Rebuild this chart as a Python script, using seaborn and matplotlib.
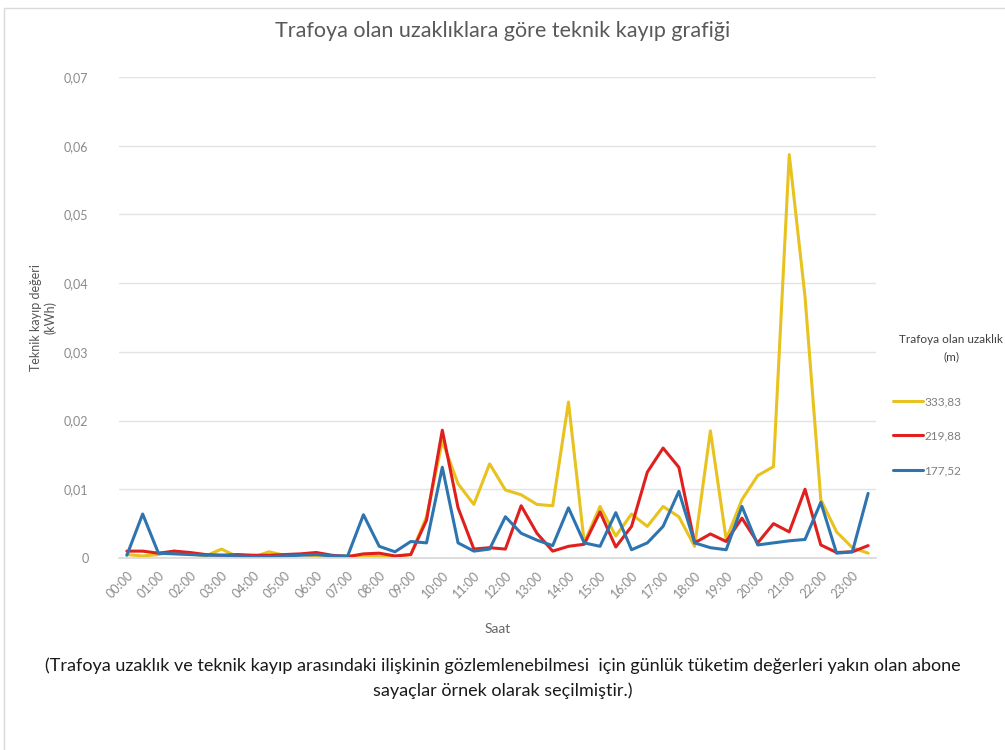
import numpy as np
import pandas as pd
import matplotlib.pyplot as plt
import seaborn as sns
from matplotlib.ticker import FuncFormatter
from matplotlib.patches import Rectangle

# saat etiketleri (30 dk aralik)
saatler = [f"{h:02d}:{m}" for h in range(24) for m in ("00", "30")]

# Teknik kayip degerleri (kWh)
kayip_333 = [0.0005, 0.0003, 0.0005, 0.0010, 0.0006, 0.0003, 0.0013, 0.0002,
             0.0001, 0.0009, 0.0004, 0.0005, 0.0003, 0.0003, 0.0003, 0.0003,
             0.0003, 0.0002, 0.0005, 0.0060, 0.0170, 0.0108, 0.0078, 0.0137,
             0.0099, 0.0092, 0.0078, 0.0076, 0.0227, 0.0022, 0.0075, 0.0032,
             0.0064, 0.0046, 0.0075, 0.0060, 0.0017, 0.0185, 0.0027, 0.0085,
             0.0120, 0.0133, 0.0587, 0.0380, 0.0085, 0.0038, 0.0015, 0.0007]

kayip_219 = [0.0010, 0.0010, 0.0007, 0.0010, 0.0008, 0.0005, 0.0004, 0.0005,
             0.0004, 0.0004, 0.0005, 0.0006, 0.0008, 0.0004, 0.0002, 0.0006,
             0.0007, 0.0003, 0.0005, 0.0055, 0.0186, 0.0073, 0.0013, 0.0015,
             0.0013, 0.0076, 0.0036, 0.0010, 0.0017, 0.0020, 0.0067, 0.0016,
             0.0046, 0.0125, 0.0160, 0.0132, 0.0022, 0.0035, 0.0024, 0.0058,
             0.0022, 0.0050, 0.0038, 0.0100, 0.0019, 0.0008, 0.0009, 0.0018]

kayip_177 = [0.0004, 0.0064, 0.0007, 0.0006, 0.0005, 0.0004, 0.0004, 0.0003,
             0.0002, 0.0002, 0.0003, 0.0004, 0.0005, 0.0003, 0.0003, 0.0063,
             0.0017, 0.0009, 0.0024, 0.0022, 0.0132, 0.0022, 0.0010, 0.0013,
             0.0060, 0.0036, 0.0026, 0.0018, 0.0073, 0.0022, 0.0017, 0.0066,
             0.0012, 0.0022, 0.0046, 0.0097, 0.0022, 0.0015, 0.0012, 0.0075,
             0.0019, 0.0022, 0.0025, 0.0027, 0.0081, 0.0007, 0.0009, 0.0094]

mesafeler = ["333,83", "219,88", "177,52"]
renkler = ["#E8C21E", "#E0201E", "#2E75B0"]

df = pd.DataFrame({
    "idx": list(range(len(saatler))) * 3,
    "kayip": kayip_333 + kayip_219 + kayip_177,
    "mesafe": [m for m in mesafeler for _ in saatler],
})

sns.set_theme(style="white")
plt.rcParams["font.family"] = ["Lato", "DejaVu Sans"]

fig = plt.figure(figsize=(10.05, 7.5), dpi=100)
ax = fig.add_axes([119 / 1005, 1 - 558 / 750, (876 - 119) / 1005, (558 - 77) / 750])

sns.lineplot(data=df, x="idx", y="kayip", hue="mesafe", hue_order=mesafeler,
             palette=renkler, linewidth=2.2, ax=ax)

ax.set_xlim(-0.5, 47.5)
ax.set_ylim(0, 0.07)
ax.set_yticks(np.arange(0, 0.071, 0.01))
ax.yaxis.set_major_formatter(FuncFormatter(
    lambda v, p: "0" if abs(v) < 1e-9 else f"{v:.2f}".replace(".", ",")))
ax.set_xticks(range(0, 48, 2))
ax.set_xticklabels(saatler[::2], rotation=45, ha="right", rotation_mode="anchor")
ax.tick_params(axis="both", length=0, labelsize=9, labelcolor="#8a8a8a")
ax.tick_params(axis="x", pad=8)
ax.tick_params(axis="y", pad=22)
ax.grid(axis="y", color="#e3e3e3", linewidth=1)
for s in ["top", "right", "left"]:
    ax.spines[s].set_visible(False)
ax.spines["bottom"].set_color("#d9d9d9")

ax.set_xlabel("Saat", fontsize=10, color="#666666", labelpad=16)
ax.set_ylabel("Teknik kayıp değeri\n(kWh)", fontsize=9, color="#555555")
ax.yaxis.set_label_coords(-0.082, 0.5)

fig.text(0.5, 1 - 31 / 750, "Trafoya olan uzaklıklara göre teknik kayıp grafiği",
         ha="center", va="center", fontsize=15.5, color="#595959")

# lejant basligi ayri yazildi (Excel'deki bosluga benzesin diye)
fig.text(951 / 1005, 1 - 348 / 750, "Trafoya olan uzaklık\n(m)", ha="center",
         va="center", fontsize=8.5, color="#404040", linespacing=1.75)

handles, labels = ax.get_legend_handles_labels()
ax.get_legend().remove()
leg = fig.legend(handles, labels, loc="upper left",
                 bbox_to_anchor=(893 / 1005, 1 - 396 / 750), frameon=False,
                 fontsize=8.5, handlelength=2.5, handletextpad=0.15,
                 labelspacing=2.0, borderpad=0, borderaxespad=0)
for t in leg.get_texts():
    t.set_color("#7f7f7f")

fig.text(0.5, 1 - 666 / 750,
         "(Trafoya uzaklık ve teknik kayıp arasındaki ilişkinin gözlemlenebilmesi  için günlük tüketim değerleri yakın olan abone",
         ha="center", va="center", fontsize=13, color="#1a1a1a")
fig.text(0.5, 1 - 691 / 750, "sayaçlar örnek olarak seçilmiştir.)",
         ha="center", va="center", fontsize=13, color="#1a1a1a")

fig.patches.append(Rectangle((0.004, -0.01), 1.2, 1.0, transform=fig.transFigure,
                             fill=False, edgecolor="#d9d9d9", linewidth=1))

fig.savefig("out.png", dpi=100)
